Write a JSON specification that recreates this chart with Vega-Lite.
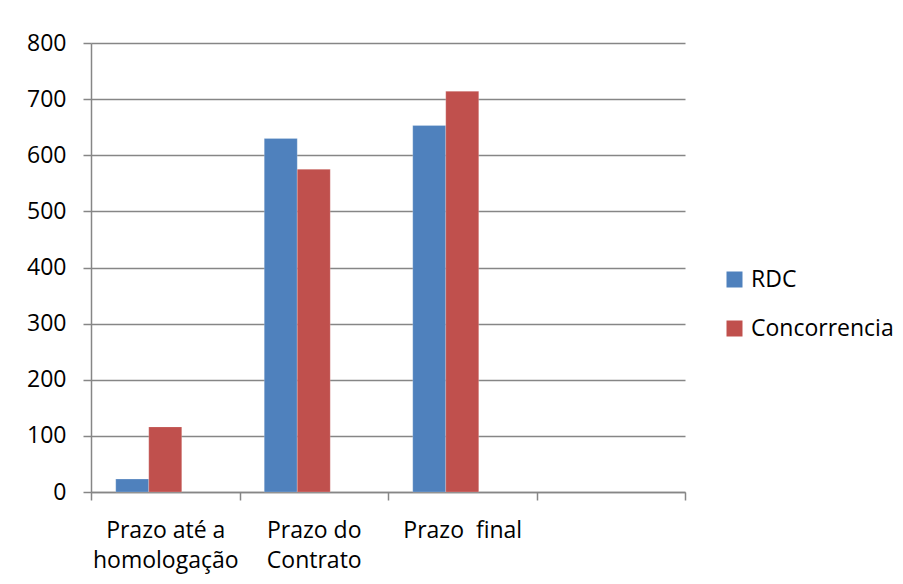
{
  "$schema": "https://vega.github.io/schema/vega-lite/v6.json",
  "width": 594,
  "height": 449,
  "autosize": {"type": "none"},
  "padding": {"left": 91, "top": 43, "right": 218, "bottom": 92},
  "background": "white",
  "data": {
    "values": [
      {"categoria": "Prazo até a homologação", "serie": "RDC", "valor": 23},
      {"categoria": "Prazo até a homologação", "serie": "Concorrencia", "valor": 116},
      {"categoria": "Prazo do Contrato", "serie": "RDC", "valor": 630},
      {"categoria": "Prazo do Contrato", "serie": "Concorrencia", "valor": 575},
      {"categoria": "Prazo  final", "serie": "RDC", "valor": 653},
      {"categoria": "Prazo  final", "serie": "Concorrencia", "valor": 714}
    ]
  },
  "mark": {"type": "bar", "stroke": "white", "strokeOpacity": 0.35, "strokeWidth": 0.6},
  "encoding": {
    "x": {
      "field": "categoria",
      "type": "nominal",
      "sort": null,
      "scale": {"domain": ["Prazo até a homologação", "Prazo do Contrato", "Prazo  final", " "], "paddingInner": 0, "paddingOuter": 0},
      "axis": {
        "title": null,
        "labelAngle": 0,
        "tickBand": "extent",
        "tickSize": 8,
        "labelPadding": 19,
        "labelLineHeight": 30,
        "labelExpr": "datum.value == 'Prazo até a homologação' ? ['Prazo até a', 'homologação'] : datum.value == 'Prazo do Contrato' ? ['Prazo do', 'Contrato'] : datum.value == 'Prazo  final' ? 'Prazo \u00a0final' : datum.value",
        "grid": false
      }
    },
    "xOffset": {
      "field": "serie",
      "type": "nominal",
      "scale": {"domain": ["RDC", "Concorrencia", "_"], "paddingInner": 0, "paddingOuter": 0.75}
    },
    "y": {
      "field": "valor",
      "type": "quantitative",
      "scale": {"domain": [0, 800], "nice": false},
      "axis": {
        "title": null,
        "values": [0, 100, 200, 300, 400, 500, 600, 700, 800],
        "tickSize": 8,
        "labelPadding": 17,
        "grid": true
      }
    },
    "color": {
      "field": "serie",
      "type": "nominal",
      "scale": {"domain": ["RDC", "Concorrencia"], "range": ["#4F81BD", "#C0504D"]},
      "legend": {
        "title": null,
        "orient": "none",
        "legendX": 632,
        "legendY": 225,
        "symbolType": "square",
        "symbolSize": 256,
        "symbolStrokeWidth": 0,
        "labelFontSize": 23,
        "labelOffset": 5,
        "rowPadding": 25,
        "labelFont": "Open Sans",
        "labelColor": "black"
      }
    }
  },
  "config": {
    "view": {"stroke": null},
    "axis": {
      "labelFont": "Open Sans",
      "labelFontSize": 23,
      "labelColor": "black",
      "domainColor": "#868686",
      "domainWidth": 1.5,
      "tickColor": "#868686",
      "tickWidth": 1.5,
      "gridColor": "#868686",
      "gridWidth": 1.5,
      "gridOpacity": 1
    }
  }
}
